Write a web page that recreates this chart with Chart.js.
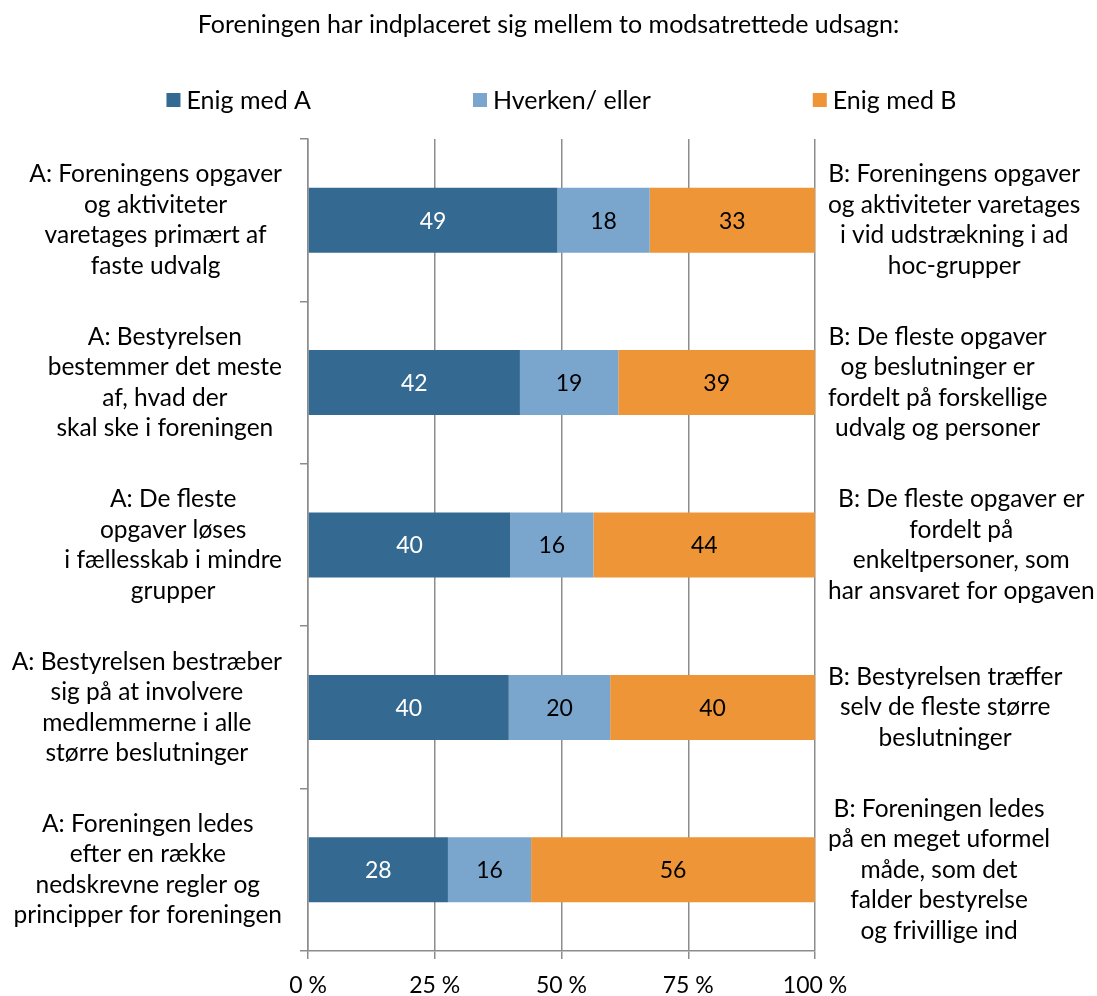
<!DOCTYPE html>
<html><head><meta charset="utf-8">
<script src="https://cdn.jsdelivr.net/npm/chart.js@4.4.1/dist/chart.umd.min.js"></script>
<style>html,body{margin:0;padding:0;background:#fff}#wrap{width:1097px;height:996px;position:relative}</style>
</head><body><div id="wrap"><canvas id="c"></canvas></div>
<script>
const titleText = 'Foreningen har indplaceret sig mellem to modsatrettede udsagn:';
const seriesNames = ['Enig med A', 'Hverken/ eller', 'Enig med B'];
const labelsA = [
  ['A: Foreningens opgaver', 'og aktiviteter', 'varetages primært af', 'faste udvalg'],
  ['A: Bestyrelsen', 'bestemmer det meste', 'af, hvad der', 'skal ske i foreningen'],
  ['A: De fleste', 'opgaver løses', 'i fællesskab i mindre', 'grupper'],
  ['A: Bestyrelsen bestræber', 'sig på at involvere', 'medlemmerne i alle', 'større beslutninger'],
  ['A: Foreningen ledes', 'efter en række', 'nedskrevne regler og', 'principper for foreningen']
];
const labelsB = [
  ['B: Foreningens opgaver', 'og aktiviteter varetages', 'i vid udstrækning i ad', 'hoc-grupper'],
  ['B: De fleste opgaver', 'og beslutninger er', 'fordelt på forskellige', 'udvalg og personer'],
  ['B: De fleste opgaver er', 'fordelt på', 'enkeltpersoner, som', 'har ansvaret for opgaven'],
  ['B: Bestyrelsen træffer', 'selv de fleste større', 'beslutninger'],
  ['B: Foreningen ledes', 'på en meget uformel', 'måde, som det', 'falder bestyrelse', 'og frivillige ind']
];
const enigA   = [49.2, 41.8, 39.9, 39.6, 27.6];
const hverken = [18.2, 19.4, 16.4, 20.0, 16.4];
const enigB   = [32.6, 38.8, 43.7, 40.4, 56.0];
const xTicks = [0, 25, 50, 75, 100];
const colors = ['#346A91', '#7AA6CE', '#EE9537'];
const labelColors = ['#ffffff', '#000000', '#000000'];

const FONT = 'Lato, "Open Sans", sans-serif';
const GRID = '#8c8c8c';

const sideLabels = {
  id: 'sideLabels',
  afterDraw(chart) {
    const ctx = chart.ctx, y = chart.scales.y, area = chart.chartArea;
    ctx.save();
    ctx.font = '24.5px ' + FONT;
    ctx.fillStyle = '#000';
    ctx.textAlign = 'center';
    ctx.textBaseline = 'middle';
    const lh = 30.5;
    const drawBlock = (lines, yc, edge, side) => {
      const w = Math.max(...lines.map(l => ctx.measureText(l).width));
      const cx = side === 'left' ? edge - w / 2 : edge + w / 2;
      lines.forEach((l, i) => ctx.fillText(l, cx, yc + (i - (lines.length - 1) / 2) * lh));
    };
    labelsA.forEach((lines, i) => drawBlock(lines, y.getPixelForValue(i), area.left - 26, 'left'));
    labelsB.forEach((lines, i) => drawBlock(lines, y.getPixelForValue(i), area.right + 13, 'right'));
    // legend
    ctx.textAlign = 'left';
    ctx.font = '25px ' + FONT;
    const box = 14, gapBox = 6, gap = 162;
    const widths = seriesNames.map(n => box + gapBox + ctx.measureText(n).width);
    const total = widths.reduce((a, b) => a + b, 0) + gap * (seriesNames.length - 1);
    let x = (area.left + area.right) / 2 - total / 2;
    const ly = 100;
    seriesNames.forEach((n, i) => {
      ctx.fillStyle = colors[i];
      ctx.fillRect(x, ly - box / 2, box, box);
      ctx.fillStyle = '#000';
      ctx.fillText(n, x + box + gapBox, ly + 1);
      x += widths[i] + gap;
    });
    ctx.restore();
  }
};

const valueLabels = {
  id: 'valueLabels',
  afterDatasetsDraw(chart) {
    const ctx = chart.ctx;
    ctx.save();
    ctx.font = '23px ' + FONT;
    ctx.textAlign = 'center';
    ctx.textBaseline = 'middle';
    chart.data.datasets.forEach((ds, di) => {
      const meta = chart.getDatasetMeta(di);
      meta.data.forEach((bar, i) => {
        ctx.fillStyle = labelColors[di];
        ctx.fillText(String(Math.round(ds.data[i])), (bar.x + bar.base) / 2, bar.y + 1);
      });
    });
    ctx.restore();
  }
};

new Chart(document.getElementById('c'), {
  type: 'bar',
  data: {
    labels: labelsA.map(l => l.join(' ')),
    datasets: [
      { label: seriesNames[0], data: enigA, backgroundColor: colors[0] },
      { label: seriesNames[1], data: hverken, backgroundColor: colors[1] },
      { label: seriesNames[2], data: enigB, backgroundColor: colors[2] }
    ]
  },
  options: {
    indexAxis: 'y',
    responsive: true,
    maintainAspectRatio: false,
    animation: false,
    layout: { padding: 0 },
    datasets: { bar: { categoryPercentage: 1, barPercentage: 0.4 } },
    plugins: {
      legend: { display: false },
      tooltip: { enabled: false },
      title: {
        display: true, text: titleText, color: '#000',
        font: { family: FONT, size: 25, weight: 'normal', lineHeight: 1.2 },
        padding: { top: 10, bottom: 99 }
      }
    },
    scales: {
      x: {
        stacked: true, min: 0, max: 100,
        afterBuildTicks: axis => { axis.ticks = xTicks.map(v => ({ value: v })); },
        afterFit: axis => { axis.height = 45; },
        ticks: { callback: v => v + ' %', color: '#000', padding: 13, font: { family: FONT, size: 23, lineHeight: 1.2 } },
        grid: { color: GRID, lineWidth: 1.5, tickLength: 8, drawTicks: true },
        border: { color: GRID, width: 1.5 }
      },
      y: {
        stacked: true,
        afterFit: axis => { axis.width = 308; },
        ticks: { display: false },
        grid: { drawOnChartArea: false, offset: true, tickLength: 8, color: GRID, lineWidth: 1.5 },
        border: { color: GRID, width: 1.5 }
      },
      y2: {
        type: 'category', position: 'right',
        labels: labelsB.map(l => l.join(' ')),
        afterFit: axis => { axis.width = 282; },
        ticks: { display: false },
        grid: { display: false },
        border: { display: false }
      }
    }
  },
  plugins: [valueLabels, sideLabels]
});
</script></body></html>
